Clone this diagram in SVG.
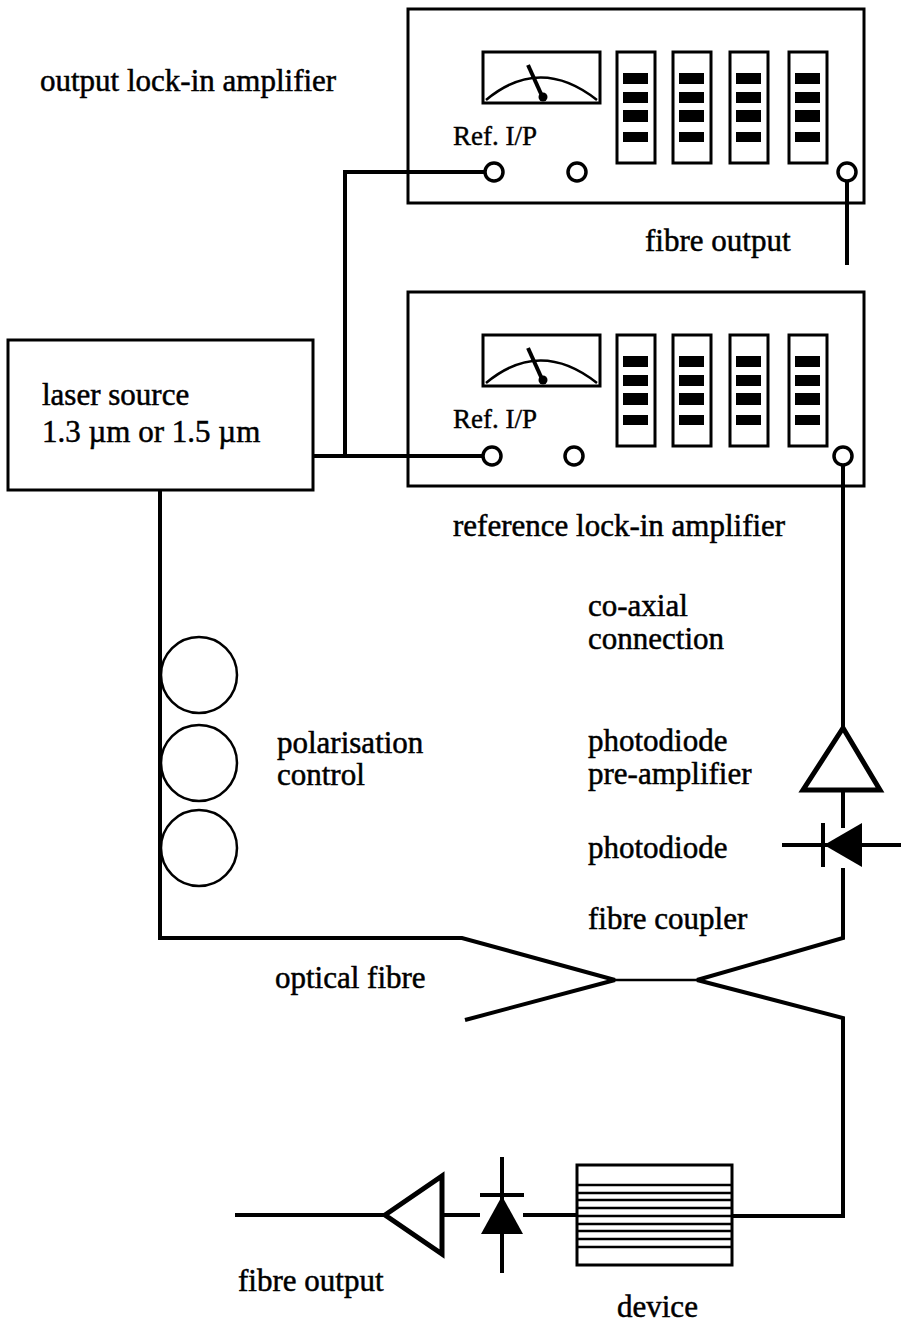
<svg xmlns="http://www.w3.org/2000/svg" width="901" height="1325" viewBox="0 0 901 1325">
  <style>
    .lbl { font-family: "Liberation Serif", "Times New Roman", serif; font-size: 31px; fill: #000; stroke: #000; stroke-width: 0.5; }
    .ref { font-family: "Liberation Serif", "Times New Roman", serif; font-size: 27px; fill: #000; stroke: #000; stroke-width: 0.4; }
    .box { fill: none; stroke: #000; stroke-width: 3; }
    .wbox { fill: #fff; stroke: #000; stroke-width: 3; }
    .wire { fill: none; stroke: #000; stroke-width: 4; }
    .thin { fill: none; stroke: #000; stroke-width: 2.5; }
    .jack { fill: #fff; stroke: #000; stroke-width: 3.5; }
    .seg { fill: #000; }
  </style>
  <defs>
    <!-- lock-in amplifier front panel: meter, four digit displays, label -->
    <g id="panel">
      <rect class="box" x="0" y="0" width="456" height="194"/>
      <rect class="wbox" x="75" y="43" width="117" height="51"/>
      <path class="thin" d="M78,91 Q132,46 189,91"/>
      <line x1="120" y1="56" x2="134" y2="87" stroke="#000" stroke-width="4"/>
      <circle cx="135" cy="88" r="4.5" fill="#000"/>
      <g id="disp">
        <rect class="wbox" x="209" y="43" width="38" height="111"/>
        <rect class="seg" x="215" y="64" width="25" height="11"/>
        <rect class="seg" x="215" y="83" width="25" height="11"/>
        <rect class="seg" x="215" y="101" width="25" height="12"/>
        <rect class="seg" x="215" y="123" width="25" height="10"/>
      </g>
      <use href="#disp" x="56"/>
      <use href="#disp" x="113"/>
      <use href="#disp" x="172"/>
      <text class="ref" x="45" y="136">Ref. I/P</text>
    </g>
  </defs>

  <!-- wiring and fibre runs -->
  <g id="connectors">
    <polyline class="wire" points="313,456 483,456"/>
    <polyline class="wire" points="345,456 345,172 485,172"/>
    <line class="wire" x1="847" y1="181" x2="847" y2="265"/>
    <line class="wire" x1="843" y1="465" x2="843" y2="728"/>
    <line class="wire" x1="843" y1="790" x2="843" y2="828"/>
    <polyline class="wire" points="843,868 843,938 697,980"/>
    <polyline class="wire" points="160,490 160,938 462,938 615,980"/>
    <line class="thin" x1="615" y1="980" x2="697" y2="980"/>
    <line class="wire" x1="615" y1="980" x2="465" y2="1020"/>
    <polyline class="wire" points="697,980 843,1018 843,1216 732,1216"/>
    <line class="wire" x1="523" y1="1215" x2="577" y2="1215"/>
    <line class="wire" x1="442" y1="1215" x2="480" y2="1215"/>
    <line class="wire" x1="235" y1="1215" x2="385" y2="1215"/>
  </g>

  <g id="output-lockin">
    <use href="#panel" x="408" y="9"/>
    <circle class="jack" cx="494" cy="172" r="9"/>
    <circle class="jack" cx="577" cy="172" r="9"/>
    <circle class="jack" cx="847" cy="172" r="9"/>
    <text class="lbl" x="40" y="91">output lock-in amplifier</text>
    <text class="lbl" x="645" y="251">fibre output</text>
  </g>

  <g id="reference-lockin">
    <use href="#panel" x="408" y="292"/>
    <circle class="jack" cx="492" cy="456" r="9"/>
    <circle class="jack" cx="574" cy="456" r="9"/>
    <circle class="jack" cx="843" cy="456" r="9"/>
    <text class="lbl" x="453" y="536">reference lock-in amplifier</text>
  </g>

  <g id="laser">
    <rect class="box" x="8" y="340" width="305" height="150"/>
    <text class="lbl" x="42" y="405">laser source</text>
    <text class="lbl" x="42" y="442">1.3 µm or 1.5 µm</text>
  </g>

  <g id="polarisation">
    <circle class="thin" cx="199" cy="675" r="38"/>
    <circle class="thin" cx="199" cy="763" r="38"/>
    <circle class="thin" cx="199" cy="848" r="38"/>
    <text class="lbl" x="277" y="753">polarisation</text>
    <text class="lbl" x="277" y="785">control</text>
  </g>

  <g id="coaxial">
    <text class="lbl" x="588" y="616">co-axial</text>
    <text class="lbl" x="588" y="649">connection</text>
  </g>

  <g id="preamp">
    <polygon points="843,728 803,790 880,790" fill="#fff" stroke="#000" stroke-width="5" stroke-linejoin="miter"/>
    <text class="lbl" x="588" y="751">photodiode</text>
    <text class="lbl" x="588" y="784">pre-amplifier</text>
  </g>

  <g id="photodiode">
    <line class="wire" x1="782" y1="845" x2="901" y2="845"/>
    <line class="wire" x1="823" y1="823" x2="823" y2="867"/>
    <polygon points="824,845 862,823 862,867" fill="#000"/>
    <text class="lbl" x="588" y="858">photodiode</text>
  </g>

  <g id="coupler">
    <text class="lbl" x="588" y="929">fibre coupler</text>
    <text class="lbl" x="275" y="988">optical fibre</text>
  </g>

  <g id="device">
    <rect class="box" x="577" y="1165" width="155" height="100"/>
    <g stroke="#000" stroke-width="2.5">
      <line x1="577" y1="1185" x2="732" y2="1185"/>
      <line x1="577" y1="1193" x2="732" y2="1193"/>
      <line x1="577" y1="1200" x2="732" y2="1200"/>
      <line x1="577" y1="1208" x2="732" y2="1208"/>
      <line x1="577" y1="1216" x2="732" y2="1216"/>
      <line x1="577" y1="1224" x2="732" y2="1224"/>
      <line x1="577" y1="1231" x2="732" y2="1231"/>
      <line x1="577" y1="1239" x2="732" y2="1239"/>
      <line x1="577" y1="1247" x2="732" y2="1247"/>
    </g>
    <text class="lbl" x="617" y="1317">device</text>
  </g>

  <g id="output-detector">
    <line class="wire" x1="502" y1="1157" x2="502" y2="1273"/>
    <line class="wire" x1="480" y1="1195" x2="524" y2="1195"/>
    <polygon points="502,1196 481,1234 523,1234" fill="#000"/>
    <polygon points="385,1215 442,1176 442,1254" fill="#fff" stroke="#000" stroke-width="5"/>
    <text class="lbl" x="238" y="1291">fibre output</text>
  </g>
</svg>
